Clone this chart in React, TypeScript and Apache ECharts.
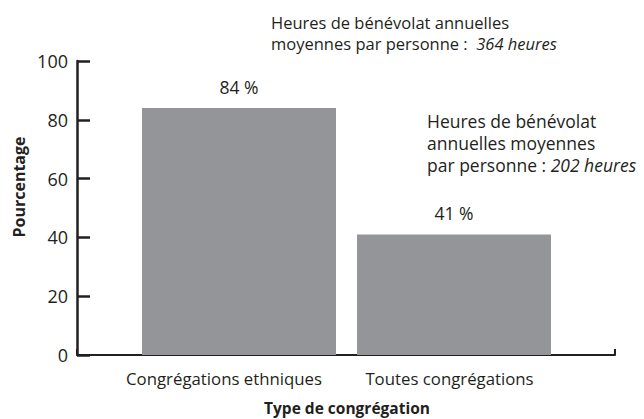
import React, { useEffect, useRef } from "react";
import * as echarts from "echarts";

const categories = ["Congrégations ethniques", "Toutes congrégations"];
const percentages = [84, 41];
const yTicks = { min: 0, max: 100, interval: 20 };
const yAxisTitle = "Pourcentage";
const xAxisTitle = "Type de congrégation";
const note1Lines = ["Heures de bénévolat annuelles", "moyennes par personne :  "];
const note1Italic = "364 heures";
const note2Lines = ["Heures de bénévolat", "annuelles moyennes", "par personne : "];
const note2Italic = "202 heures";

const FONT = "Open Sans";
const INK = "#231f20";

function richNote(lines: string[], italic: string) {
  return (
    lines.slice(0, -1).map((l) => `{n|${l}}`).join("\n") +
    "\n" +
    `{n|${lines[lines.length - 1]}}{i|${italic}}`
  );
}

export default function App() {
  const ref = useRef<HTMLDivElement>(null);
  useEffect(() => {
    if (!ref.current) return;
    const chart = echarts.init(ref.current, null, { renderer: "svg" });
    const rich = (size: number, lh: number) => ({
      n: { fontFamily: FONT, fontSize: size, color: INK, lineHeight: lh },
      i: { fontFamily: FONT, fontSize: size, color: INK, fontStyle: "italic", lineHeight: lh },
    });
    const labelStyle = { fontFamily: FONT, fontSize: 16.8, color: INK };
    chart.setOption({
      animation: false,
      backgroundColor: "#ffffff",
      grid: [
        { left: 77, right: 29, top: 61, bottom: 64 },
        { left: 131.5, right: 82.5, top: 61, bottom: 64 },
      ],
      xAxis: [
        {
          type: "category",
          gridIndex: 0,
          data: [""],
          boundaryGap: true,
          axisLine: { show: true, lineStyle: { color: INK, width: 2 } },
          axisTick: { show: true, inside: true, length: 6, lineStyle: { color: INK, width: 2 } },
          axisLabel: { show: false },
          splitLine: { show: false },
        },
        {
          type: "category",
          gridIndex: 1,
          data: [
            { value: categories[0], textStyle: { ...labelStyle, padding: [0, 30, 0, 0] } },
            { value: categories[1], textStyle: { ...labelStyle, padding: [0, 9, 0, 0] } },
          ],
          axisLine: { show: false },
          axisTick: { show: false },
          axisLabel: { ...labelStyle, interval: 0, margin: 15 },
        },
      ],
      yAxis: [
        {
          type: "value",
          gridIndex: 0,
          min: yTicks.min,
          max: yTicks.max,
          interval: yTicks.interval,
          axisLine: { show: true, lineStyle: { color: INK, width: 2.5 } },
          axisTick: { show: true, inside: true, length: 13, lineStyle: { color: INK, width: 2.5 } },
          axisLabel: { fontFamily: FONT, fontSize: 18, color: INK, margin: 9 },
          splitLine: { show: false },
        },
        {
          type: "value",
          gridIndex: 1,
          min: yTicks.min,
          max: yTicks.max,
          show: false,
          splitLine: { show: false },
        },
      ],
      series: [
        {
          type: "bar",
          xAxisIndex: 1,
          yAxisIndex: 1,
          data: percentages,
          barWidth: 194,
          itemStyle: { color: "#939598" },
          label: {
            show: true,
            position: "top",
            distance: 12,
            formatter: "{c} %",
            fontFamily: FONT,
            fontSize: 17.5,
            color: INK,
          },
        },
      ],
      graphic: [
        {
          type: "text",
          x: 19,
          y: 187,
          rotation: Math.PI / 2,
          style: {
            text: yAxisTitle,
            fontFamily: FONT,
            fontWeight: "bold",
            fontSize: 16,
            fill: INK,
            align: "center",
            verticalAlign: "middle",
          },
        },
        {
          type: "text",
          x: 347,
          y: 408,
          style: {
            text: xAxisTitle,
            fontFamily: FONT,
            fontWeight: "bold",
            fontSize: 15.5,
            lineHeight: 17,
            fill: INK,
            align: "center",
            verticalAlign: "middle",
          },
        },
        {
          type: "text",
          x: 271,
          y: 12,
          style: { text: richNote(note1Lines, note1Italic), rich: rich(16.5, 21), fill: INK },
        },
        {
          type: "text",
          x: 427,
          y: 110,
          style: { text: richNote(note2Lines, note2Italic), rich: rich(17.5, 22), fill: INK },
        },
      ],
    });
    return () => chart.dispose();
  }, []);
  return (
    <div
      ref={ref}
      style={{ position: "absolute", left: 0, top: 0, width: 644, height: 419 }}
    />
  );
}
